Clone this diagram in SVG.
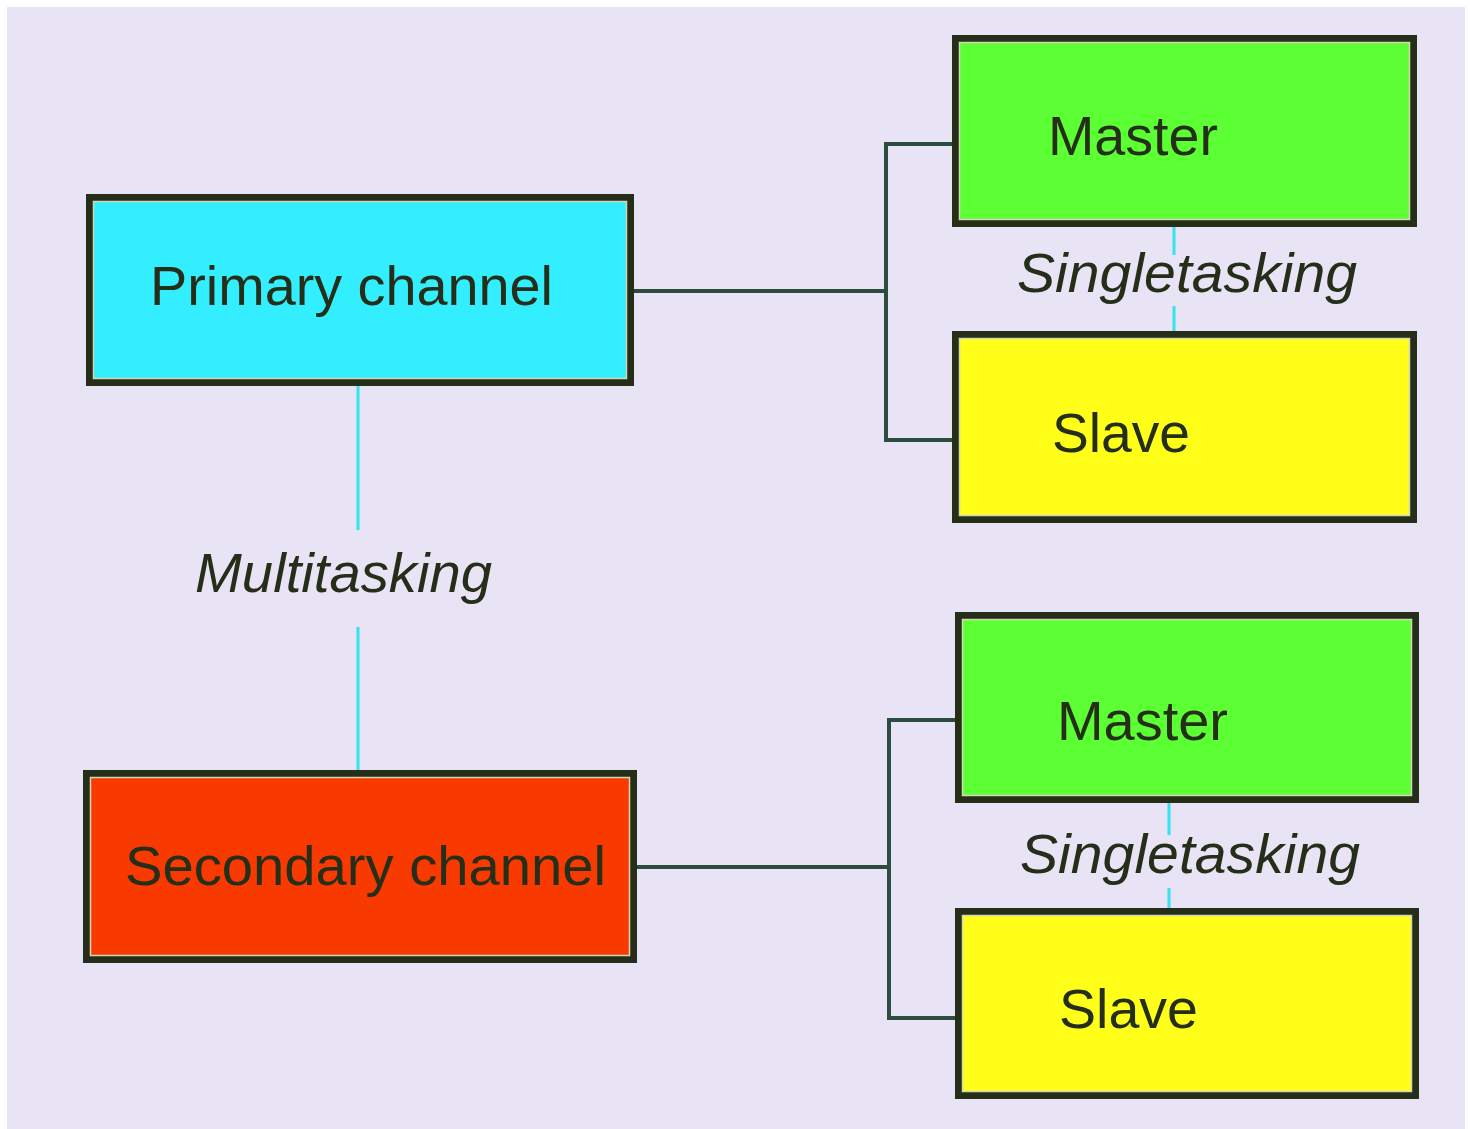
<svg xmlns="http://www.w3.org/2000/svg" width="1470" height="1129" viewBox="0 0 1470 1129">
<style>
.box{stroke:#252e19;stroke-width:7}
.inner{fill:none;stroke:#d4d6b4;stroke-width:1.5}
.lbl{font-family:"Liberation Sans",Arial,sans-serif;font-size:56px;fill:#252e19}
.it{font-family:"Liberation Sans",Arial,sans-serif;font-size:55px;font-style:italic;fill:#252e19}
.tree{fill:none;stroke:#2d4c40;stroke-width:4}
.cy{fill:none;stroke:#33e4f0;stroke-width:3}
</style>
<rect x="0" y="0" width="1470" height="1129" fill="#ffffff"/>
<rect x="7" y="7" width="1458" height="1122" fill="#e8e3f5"/>
<g id="connectors">
<path class="tree" d="M634 291 H886 M952 144 H886 V440 H952"/>
<path class="tree" d="M637 867 H889 M955 720 H889 V1018 H955"/>
<path class="cy" d="M358 386 V530 M358 627 V770"/>
<path class="cy" d="M1174 227 V255 M1174 306 V331"/>
<path class="cy" d="M1169 803 V835 M1169 888 V918"/>
</g>
<g id="primary">
<rect class="box" x="89.5" y="197.5" width="541" height="185" fill="#33eeff"/>
<rect class="inner" x="93.5" y="201.5" width="533" height="177"/>
<text class="lbl" x="150" y="305" textLength="403" lengthAdjust="spacingAndGlyphs">Primary channel</text>
</g>
<g id="secondary">
<rect class="box" x="86.5" y="773.5" width="547" height="186" fill="#f83a00"/>
<rect class="inner" x="90.5" y="777.5" width="539" height="178"/>
<text class="lbl" x="125" y="885" textLength="481" lengthAdjust="spacingAndGlyphs">Secondary channel</text>
</g>
<g id="master1">
<rect class="box" x="955.5" y="38.5" width="458" height="185" fill="#5cff33"/>
<rect class="inner" x="959.5" y="42.5" width="450" height="177"/>
<text class="lbl" x="1048" y="155" textLength="170" lengthAdjust="spacingAndGlyphs">Master</text>
</g>
<g id="slave1">
<rect class="box" x="955.5" y="334.5" width="458" height="185" fill="#ffff1a"/>
<rect class="inner" x="959.5" y="338.5" width="450" height="177"/>
<text class="lbl" x="1052" y="452" textLength="138" lengthAdjust="spacingAndGlyphs">Slave</text>
</g>
<g id="master2">
<rect class="box" x="958.5" y="615.5" width="457" height="184" fill="#5cff33"/>
<rect class="inner" x="962.5" y="619.5" width="449" height="176"/>
<text class="lbl" x="1057" y="740" textLength="171" lengthAdjust="spacingAndGlyphs">Master</text>
</g>
<g id="slave2">
<rect class="box" x="958.5" y="911.5" width="457" height="184" fill="#ffff1a"/>
<rect class="inner" x="962.5" y="915.5" width="449" height="176"/>
<text class="lbl" x="1059" y="1028" textLength="139" lengthAdjust="spacingAndGlyphs">Slave</text>
</g>
<g id="labels">
<text class="it" x="1017" y="292" textLength="340" lengthAdjust="spacingAndGlyphs">Singletasking</text>
<text class="it" x="1020" y="873" textLength="340" lengthAdjust="spacingAndGlyphs">Singletasking</text>
<text class="it" x="195" y="592" textLength="297" lengthAdjust="spacingAndGlyphs">Multitasking</text>
</g>
</svg>
